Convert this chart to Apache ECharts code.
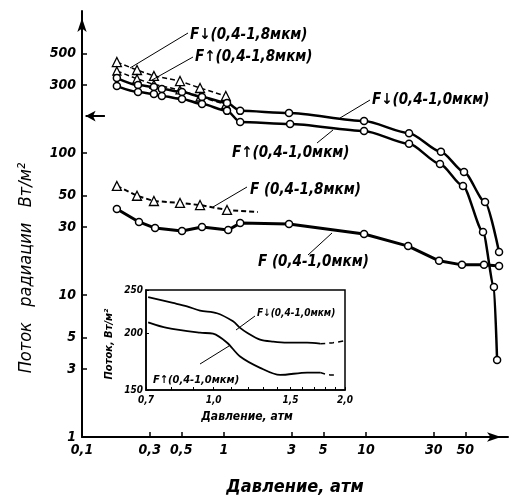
<!DOCTYPE html>
<html>
<head>
<meta charset="utf-8">
<script src="https://cdn.jsdelivr.net/npm/echarts@6/dist/echarts.min.js"></script>
<style>
  html, body { margin: 0; padding: 0; background: #fff; }
  #chart { width: 509px; height: 496px; }
</style>
</head>
<body>
<div id="chart"></div>
<script>
// Axis tick values
const xTicks = [0.1, 0.3, 0.5, 1, 3, 5, 10, 30, 50];
const yTicks = [1, 3, 5, 10, 30, 50, 100, 300, 500];
const insetXLabels = [0.7, 1.0, 1.5, 2.0];
const insetXTicks = [0.7, 0.8, 0.9, 1.0, 1.1, 1.2, 1.3, 1.4, 1.5, 1.6, 1.7, 1.8, 1.9, 2.0];
const insetYTicks = [150, 200, 250];

// Downward flux, 0.4-1.8 um (atm, W/m2)
const pDown18 = [0.176, 0.244, 0.321, 0.49, 0.678, 1.03];
const fDown18 = [437, 384, 349, 321, 287, 252];
// Upward flux, 0.4-1.8 um
const pUp18 = [0.176, 0.244, 0.321, 0.49, 0.678, 1.03];
const fUp18 = [378, 333, 304, 278, 248, 220];
// Downward flux, 0.4-1.0 um
const pDown10 = [0.176, 0.248, 0.321, 0.365, 0.506, 0.70, 1.05, 1.30, 2.87, 9.69, 20.1, 33.7, 49.0, 68.9, 86.5];
const fDown10 = [337, 301, 292, 282, 269, 248, 225, 198, 191, 168, 138, 102, 73.5, 45.2, 20.1];
// Upward flux, 0.4-1.0 um
const pUp10 = [0.176, 0.248, 0.321, 0.365, 0.506, 0.70, 1.05, 1.30, 2.92, 9.69, 20.1, 33.2, 48.2, 66.7, 79.6, 83.8];
const fUp10 = [296, 269, 260, 252, 240, 221, 198, 165, 160, 143, 116, 83.7, 58.6, 27.8, 11.4, 3.48];
// Net flux, 0.4-1.8 um (last value is the end of the dashed line)
const pNet18 = [0.176, 0.244, 0.321, 0.49, 0.678, 1.05, 1.73];
const fNet18 = [58.6, 50.0, 45.9, 44.5, 43.0, 39.7, 38.4];
// Net flux, 0.4-1.0 um
const pNet10 = [0.176, 0.252, 0.327, 0.506, 0.70, 1.07, 1.30, 2.87, 9.69, 19.8, 32.7, 47.4, 67.8, 86.5];
const fNet10 = [40.3, 32.7, 29.6, 28.2, 30.1, 28.7, 32.1, 31.6, 26.9, 22.1, 17.4, 16.3, 16.3, 16.0];
// Reference level marked on the flux axis
const refFlux = 182;

// Inset: continuous records, 0.4-1.0 um
const pInDown = [0.708, 0.807, 0.869, 0.931, 1.018, 1.108, 1.15, 1.193, 1.278, 1.369, 1.474, 1.638, 1.755];
const fInDown = [241, 234, 230, 225, 222, 213, 206, 201, 194, 192, 191, 191, 190];
const pInDownTail = [1.755, 1.879, 2.0];
const fInDownTail = [190, 191, 193];
const pInUp = [0.708, 0.782, 0.931, 0.997, 1.074, 1.15, 1.278, 1.42, 1.638, 1.755];
const fInUp = [212, 206, 201, 200, 191, 178, 168, 162, 164, 164];
const pInUpTail = [1.755, 1.85, 1.919];
const fInUpTail = [164, 162, 162];

const FONT = "'Liberation Sans Narrow', 'DejaVu Sans Condensed', 'DejaVu Sans', sans-serif";
const pair = (xs, ys) => xs.map((x, i) => [x, ys[i]]);
const comma = v => String(v).replace('.', ',');

const tickFont = { color: '#000', fontFamily: FONT, fontStyle: 'italic', fontWeight: 'bold' };

function lineSeries(data, opts) {
  return Object.assign({
    type: 'line',
    data: data,
    xAxisIndex: 0,
    yAxisIndex: 0,
    symbol: 'circle',
    symbolSize: 7,
    silent: true,
    animation: false,
    itemStyle: { color: '#fff', borderColor: '#000', borderWidth: 1.5 },
    lineStyle: { color: '#000', width: 2.5 },
    emphasis: { disabled: true }
  }, opts);
}

const net18Data = pair(pNet18, fNet18);
net18Data[net18Data.length - 1] = { value: net18Data[net18Data.length - 1], symbol: 'none' };

const triItem = { color: '#fff', borderColor: '#000', borderWidth: 1.3 };

const option = {
  animation: false,
  backgroundColor: '#fff',
  grid: [
    { left: 82, right: 1, top: 11, bottom: 59 },
    { left: 146, right: 164, top: 290, bottom: 106, show: true, borderColor: '#000', borderWidth: 1.5, backgroundColor: '#fff', z: 5 }
  ],
  xAxis: [
    {
      type: 'log', logBase: 10, min: 0.1, max: 100, gridIndex: 0,
      axisLine: { lineStyle: { color: '#000', width: 2 }, symbol: ['none', 'arrow'], symbolSize: [7, 14], symbolOffset: [0, -7] },
      axisTick: { inside: true, length: 5, customValues: xTicks, lineStyle: { color: '#000', width: 1.5 } },
      axisLabel: Object.assign({ customValues: xTicks, formatter: v => comma(v), margin: 6, fontSize: 14 }, tickFont),
      splitLine: { show: false }, minorTick: { show: false }
    },
    {
      type: 'log', logBase: 10, min: 0.7, max: 2.0, gridIndex: 1, z: 6,
      axisLine: { lineStyle: { color: '#000', width: 1.5 } },
      axisTick: { inside: true, length: 3, customValues: insetXTicks, lineStyle: { color: '#000', width: 1 } },
      axisLabel: Object.assign({ customValues: insetXLabels, formatter: v => comma(Number(v).toFixed(1)), margin: 5, fontSize: 10 }, tickFont),
      splitLine: { show: false }
    }
  ],
  yAxis: [
    {
      type: 'log', logBase: 10, min: 1, max: 1000, gridIndex: 0,
      axisLine: { lineStyle: { color: '#000', width: 2 }, symbol: ['none', 'arrow'], symbolSize: [7, 14], symbolOffset: [0, -7] },
      axisTick: { inside: true, length: 5, customValues: yTicks, lineStyle: { color: '#000', width: 1.5 } },
      axisLabel: Object.assign({ customValues: yTicks, formatter: v => String(v), margin: 6, fontSize: 14 }, tickFont),
      splitLine: { show: false }, minorTick: { show: false }
    },
    {
      type: 'log', logBase: 10, min: 150, max: 250, gridIndex: 1, z: 6,
      axisLine: { lineStyle: { color: '#000', width: 1.5 } },
      axisTick: { inside: true, length: 3, customValues: insetYTicks, lineStyle: { color: '#000', width: 1 } },
      axisLabel: Object.assign({ customValues: insetYTicks, formatter: v => String(v), margin: 3, fontSize: 10 }, tickFont),
      splitLine: { show: false }
    }
  ],
  series: [
    lineSeries(pair(pDown18, fDown18), {
      symbol: 'triangle', symbolSize: 9, itemStyle: triItem,
      lineStyle: { color: '#000', width: 1.5, type: [5, 3] }
    }),
    lineSeries(pair(pUp18, fUp18), {
      symbol: 'triangle', symbolSize: 8, itemStyle: triItem,
      lineStyle: { color: '#000', width: 1.5, type: [5, 3] }
    }),
    lineSeries(pair(pDown10, fDown10), { smooth: 0.25, smoothMonotone: 'x' }),
    lineSeries(pair(pUp10, fUp10), { smooth: 0.25, smoothMonotone: 'x' }),
    lineSeries(net18Data, {
      symbol: 'triangle', symbolSize: 9, itemStyle: triItem,
      lineStyle: { color: '#000', width: 2, type: [5, 3] }
    }),
    lineSeries(pair(pNet10, fNet10), {
      lineStyle: { color: '#000', width: 3 },
      markLine: {
        silent: true, animation: false,
        symbol: ['none', 'arrow'], symbolSize: [8, 10],
        label: { show: false },
        lineStyle: { color: '#000', width: 2, type: 'solid' },
        data: [[{ coord: [0.145, refFlux] }, { coord: [0.106, refFlux] }]]
      }
    }),
    // inset curves
    lineSeries(pair(pInDown, fInDown), { xAxisIndex: 1, yAxisIndex: 1, symbol: 'none', smooth: 0.3, z: 7, lineStyle: { color: '#000', width: 1.8 } }),
    lineSeries(pair(pInDownTail, fInDownTail), { xAxisIndex: 1, yAxisIndex: 1, symbol: 'none', smooth: 0.3, z: 7, lineStyle: { color: '#000', width: 1.5, type: [5, 4] } }),
    lineSeries(pair(pInUp, fInUp), { xAxisIndex: 1, yAxisIndex: 1, symbol: 'none', smooth: 0.3, z: 7, lineStyle: { color: '#000', width: 1.8 } }),
    lineSeries(pair(pInUpTail, fInUpTail), { xAxisIndex: 1, yAxisIndex: 1, symbol: 'none', smooth: 0.3, z: 7, lineStyle: { color: '#000', width: 1.5, type: [5, 4] } })
  ]
};

// Curve labels with leader lines, axis titles
function txt(text, x, y, size, extra, weight) {
  return Object.assign({
    type: 'text', x: x, y: y, z: 20, silent: true,
    style: {
      text: text, fill: '#000', fontFamily: FONT, fontStyle: 'italic', fontWeight: weight || 'bold',
      fontSize: size, textAlign: 'left', textVerticalAlign: 'middle'
    }
  }, extra || {});
}
function seg(x1, y1, x2, y2, w) {
  return { type: 'line', z: 20, silent: true, shape: { x1: x1, y1: y1, x2: x2, y2: y2 }, style: { stroke: '#000', lineWidth: w || 1 } };
}
function centered(text, x, y, size, rot, weight) {
  const t = txt(text, x, y, size, { rotation: rot || 0 }, weight);
  t.style.textAlign = 'center';
  return t;
}

option.graphic = [
  txt('F↓(0,4-1,8мкм)', 190, 35, 15),
  seg(188, 33, 130, 68),
  txt('F↑(0,4-1,8мкм)', 195, 57, 15),
  seg(193, 57, 152, 80),
  txt('F↓(0,4-1,0мкм)', 372, 100, 15),
  seg(370, 100, 340, 118),
  txt('F↑(0,4-1,0мкм)', 232, 153, 15),
  seg(317, 143, 333, 130),
  txt('F (0,4-1,8мкм)', 250, 190, 15),
  seg(247, 187, 213, 207),
  txt('F (0,4-1,0мкм)', 258, 262, 15),
  seg(308, 255, 332, 233),
  txt('F↓(0,4-1,0мкм)', 257, 313, 10),
  seg(255, 316, 236, 330),
  txt('F↑(0,4-1,0мкм)', 153, 380, 11),
  seg(200, 364, 229, 346),
  centered('Давление, атм', 295, 487, 18),
  centered('Поток   радиации   Вт/м²', 26, 268, 18, Math.PI / 2, 'normal'),
  centered('Давление, атм', 247, 417, 12),
  centered('Поток, Вт/м²', 109, 344, 11, Math.PI / 2)
];

const chart = echarts.init(document.getElementById('chart'), null, { renderer: 'canvas' });
chart.setOption(option);
</script>
</body>
</html>
